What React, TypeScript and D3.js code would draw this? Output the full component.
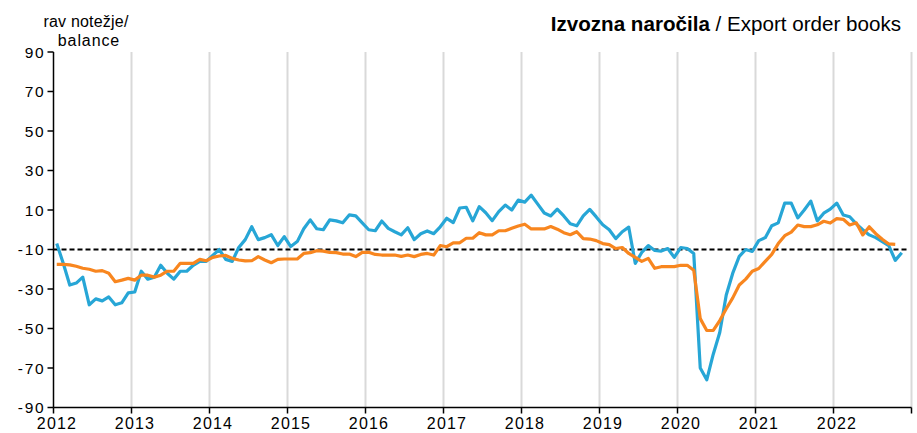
import React from "react";
import * as d3 from "d3";

const years = [2012, 2013, 2014, 2015, 2016, 2017, 2018, 2019, 2020, 2021, 2022];
const yTicks = [90, 70, 50, 30, 10, -10, -30, -50, -70, -90];

// Monthly, Jan 2012 onward
const exportOrders = [
  -7, -17, -28, -27, -24, -38, -35, -36, -34, -38, -37, -32,
  -31.5, -21, -25, -24, -18, -22, -25, -21, -21, -18, -16, -16,
  -13, -10, -15, -16, -9, -5, 1.5, -5, -4, -2.5, -8, -3.5,
  -8.5, -6, 0.5, 5, 0.5, 0, 5, 4.5, 3.5, 7.5, 7, 3.5,
  0, -0.5, 4.4, 0.7, -1, -2.6, 1, -5, -2, -0.6, -2, 1.5,
  5.8, 3.6, 11, 11.4, 4.5, 11.7, 8.6, 4.6, 9.2, 12.5, 10, 15,
  14, 17.5, 13, 8.5, 7, 10.4, 7, 3, 2, 7, 10.3, 6.5,
  2.5, 0, -4.5, -1, 1.3, -17, -11.5, -8, -10.5, -10.8, -9.5, -14,
  -9, -9.5, -12, -70, -76, -63, -52, -33, -22, -13.5, -10, -11,
  -5.5, -4, 2, 3.5, 13.5, 13.5, 6, 10, 14.5, 4.5, 8.4, 10.4,
  13.5, 7.5, 6.6, 3, 0, -2.6, -4, -6, -8, -15.5, -11.6,
];

const exportOrdersTrend = [
  -17.5, -17.5, -17.8, -18.5, -19.5, -20, -21, -20.7, -22, -26.3, -25.5, -24.6,
  -25.5, -23, -23, -24, -23, -21, -21, -17, -17, -17, -15, -15.7,
  -14, -13.3, -13, -14.5, -15.3, -15.8, -15.7, -13.6, -15.3, -16.7, -15, -14.8,
  -14.8, -14.8, -12, -11.6, -10.6, -10.8, -11.5, -11.6, -12.3, -12.3, -13.6, -11.5,
  -11.4, -12.5, -12.8, -12.8, -12.8, -13.5, -12.8, -13.6, -12.5, -12, -12.8, -8,
  -8.6, -6.6, -6.6, -4.3, -4.3, -1.5, -2.6, -2.6, -0.5, -0.5, 0.7, 1.9,
  2.8, 0.4, 0.4, 0.4, 1.6, 0.3, -1.5, -2.5, -1, -4.5, -4.7, -5.5,
  -7, -7.5, -9.5, -9, -12, -14, -16, -14.5, -19.5, -18.7, -18.7, -18.7,
  -18, -18, -20.5, -45, -51, -51, -46, -40, -34.5, -28, -25, -21,
  -19.6, -16, -12.5, -7, -3, -1.2, 2.4, 1.6, 1.6, 2.5, 4.3, 3.4,
  5.6, 5.3, 2.4, 3.5, -2.6, 1.5, -2, -4.8, -7.2, -7.4,
];

const referenceLevel = -10;

export default function App() {
  const W = 917;
  const H = 433;
  const x = d3.scaleLinear().domain([0, 132]).range([53.5, 911.5]);
  const y = d3.scaleLinear().domain([-90, 90]).range([407.5, 52]);
  const line = d3
    .line<number>()
    .x((_, i) => x(i + 0.5))
    .y((d) => y(d))
    .curve(d3.curveLinear);
  const font = "'Liberation Sans', Arial, sans-serif";
  const gridYears = d3.range(1, 12);

  return (
    <svg width={W} height={H} style={{ position: "absolute", left: 0, top: 0 }} fontFamily={font}>
      <rect x={0} y={0} width={W} height={H} fill="#fff" />
      {gridYears.map((k) => (
        <line key={k} x1={x(k * 12)} x2={x(k * 12)} y1={y(90)} y2={y(-90)} stroke="#d9d9d9" strokeWidth={2} />
      ))}
      <line
        x1={x(0)}
        x2={x(131.3)}
        y1={y(referenceLevel)}
        y2={y(referenceLevel)}
        stroke="#000"
        strokeWidth={1.8}
        strokeDasharray="5,3"
      />
      <path d={line(exportOrders) || ""} fill="none" stroke="#27a6d6" strokeWidth={3.2} strokeLinejoin="round" />
      <path d={line(exportOrdersTrend) || ""} fill="none" stroke="#f8861f" strokeWidth={3.2} strokeLinejoin="round" />
      {/* axes */}
      <line x1={x(0)} x2={x(0)} y1={y(90)} y2={y(-90)} stroke="#000" strokeWidth={1.5} />
      <line x1={x(0)} x2={x(132)} y1={y(-90)} y2={y(-90)} stroke="#000" strokeWidth={1.5} />
      {yTicks.map((t) => (
        <g key={t}>
          <line x1={x(0) - 6} x2={x(0)} y1={y(t)} y2={y(t)} stroke="#000" strokeWidth={1.5} />
          <text x={45.5} y={y(t)} dy="0.36em" textAnchor="end" fontSize={15.5} letterSpacing={1.8} fill="#000">
            {t}
          </text>
        </g>
      ))}
      {d3.range(0, 12).map((k) => (
        <line key={k} x1={x(k * 12)} x2={x(k * 12)} y1={y(-90)} y2={y(-90) + 6} stroke="#000" strokeWidth={1.5} />
      ))}
      {years.map((yr, k) => (
        <text key={yr} x={x(k * 12) + 3.5} y={429} textAnchor="middle" fontSize={16} letterSpacing={1.2} fill="#000">
          {yr}
        </text>
      ))}
      <text x={86} y={27} textAnchor="middle" fontSize={16} fill="#000" letterSpacing={0.2}>
        rav notežje/
      </text>
      <text x={89} y={46} textAnchor="middle" fontSize={16} fill="#000" letterSpacing={0.9}>
        balance
      </text>
      <text x={901} y={31} textAnchor="end" fontSize={20.6} fill="#000">
        <tspan fontWeight="bold">Izvozna naročila</tspan>
        <tspan> / Export order books</tspan>
      </text>
    </svg>
  );
}
